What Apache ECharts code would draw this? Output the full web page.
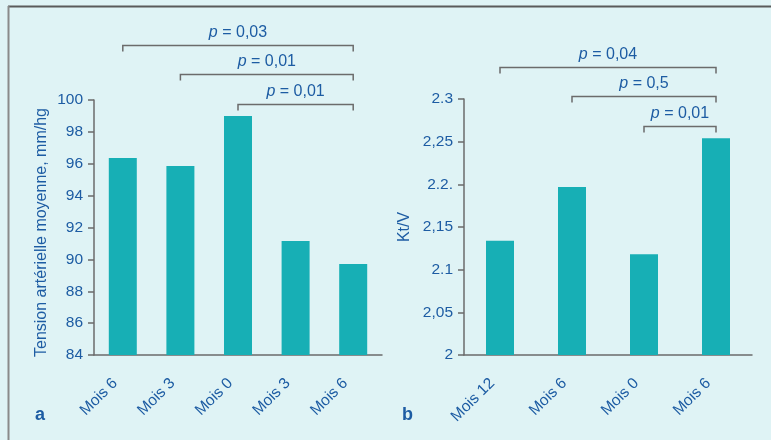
<!DOCTYPE html>
<html>
<head>
<meta charset="utf-8">
<script src="https://cdn.jsdelivr.net/npm/echarts@6/dist/echarts.min.js"></script>
<style>
  html, body { margin: 0; padding: 0; background: #dff3f5; }
  #main { width: 771px; height: 440px; }
</style>
</head>
<body>
<div id="main"></div>
<script>
// panel a : tension artérielle
const catsA = ['Mois 6', 'Mois 3', 'Mois 0', 'Mois 3', 'Mois 6']
const valuesA = [96.36, 95.86, 99.0, 91.15, 89.71]
// panel b : Kt/V
const catsB = ['Mois 12', 'Mois 6', 'Mois 0', 'Mois 6']
const valuesB = [2.134, 2.197, 2.118, 2.254]
const tickLabelsB = ['2', '2,05', '2.1', '2,15', '2.2.', '2,25', '2.3']

// significance brackets: from category -> to category, drawn at a y value
const bracketsA = [
    {from: 0, to: 4, level: 103.48, p: '0,03'},
    {from: 1, to: 4, level: 101.66, p: '0,01'},
    {from: 2, to: 4, level: 99.75, p: '0,01'}
]
const bracketsB = [
    {from: 0, to: 3, level: 2.337, p: '0,04'},
    {from: 1, to: 3, level: 2.3035, p: '0,5'},
    {from: 2, to: 3, level: 2.268, p: '0,01'}
]

const blue = '#1d5ca3'
const teal = '#17afb5'
const grey = '#6b6b6b'
const font = '"Liberation Sans", Arial, sans-serif'

const xAxisBase = {
    type: 'category',
    axisLine: {lineStyle: {color: grey, width: 1.5}},
    axisTick: {length: 6, lineStyle: {color: grey, width: 1.5}},
    axisLabel: {
        rotate: 45, color: blue, fontSize: 15.5, fontFamily: font,
        margin: 18, padding: [0, 11, 0, 0]
    }
}
const yAxisBase = {
    type: 'value',
    splitLine: {show: false},
    axisLine: {show: true, lineStyle: {color: grey, width: 1.5}},
    axisTick: {show: true, length: 6, lineStyle: {color: grey, width: 1.5}},
    axisLabel: {color: blue, fontSize: 15.5, fontFamily: font, margin: 11},
    nameLocation: 'middle',
    nameTextStyle: {color: blue, fontSize: 16, fontFamily: font}
}

let myChart = echarts.init(document.getElementById('main'))

let option = {
    backgroundColor: '#dff3f5',
    animation: false,
    textStyle: {fontFamily: font},
    grid: [
        {left: 94, top: 100, width: 288, height: 255},
        {left: 464, top: 99, width: 288, height: 256}
    ],
    xAxis: [
        Object.assign({}, xAxisBase, {gridIndex: 0, data: catsA}),
        Object.assign({}, xAxisBase, {gridIndex: 1, data: catsB})
    ],
    yAxis: [
        Object.assign({}, yAxisBase, {
            gridIndex: 0, min: 84, max: 100, interval: 2,
            name: 'Tension artérielle moyenne, mm/hg', nameGap: 44,
            nameTextStyle: Object.assign({}, yAxisBase.nameTextStyle, {padding: [0, 10, 0, 0]})
        }),
        Object.assign({}, yAxisBase, {
            gridIndex: 1, min: 2, max: 2.3, interval: 0.05,
            name: 'Kt/V', nameGap: 51,
            axisLabel: Object.assign({}, yAxisBase.axisLabel, {
                formatter: v => tickLabelsB[Math.round((v - 2) / 0.05)]
            })
        })
    ],
    series: [
        {type: 'bar', xAxisIndex: 0, yAxisIndex: 0, data: valuesA, barWidth: 28, itemStyle: {color: teal}},
        {type: 'bar', xAxisIndex: 1, yAxisIndex: 1, data: valuesB, barWidth: 28, itemStyle: {color: teal}}
    ]
}

myChart.setOption(option)

// frame, panel letters and brackets
let graphics = [
    {type: 'line', shape: {x1: 8, y1: 6.5, x2: 771, y2: 6.5}, style: {stroke: '#5a5a5a', lineWidth: 2}},
    {type: 'line', shape: {x1: 8.5, y1: 6, x2: 8.5, y2: 440}, style: {stroke: '#8a8a8a', lineWidth: 2}},
    {type: 'text', x: 35, y: 406, style: {text: 'a', fill: blue, font: 'bold 18px ' + font}},
    {type: 'text', x: 402, y: 406, style: {text: 'b', fill: blue, font: 'bold 18px ' + font}}
]

function addBrackets(list, gridIndex) {
    list.forEach(b => {
        let p1 = myChart.convertToPixel({gridIndex: gridIndex}, [b.from, b.level])
        let p2 = myChart.convertToPixel({gridIndex: gridIndex}, [b.to, b.level])
        let y = Math.round(p1[1]) + 0.5
        graphics.push({
            type: 'polyline',
            shape: {points: [[p1[0], y + 6], [p1[0], y], [p2[0], y], [p2[0], y + 6]]},
            style: {stroke: grey, lineWidth: 1.5, fill: null}
        })
        graphics.push({
            type: 'text',
            x: (p1[0] + p2[0]) / 2,
            y: y - 13,
            style: {
                text: '{i|p} = ' + b.p,
                rich: {i: {fontStyle: 'italic', fontSize: 16, fill: blue, fontFamily: font}},
                fill: blue, fontSize: 16, fontFamily: font,
                align: 'center', verticalAlign: 'middle'
            }
        })
    })
}
addBrackets(bracketsA, 0)
addBrackets(bracketsB, 1)

myChart.setOption({graphic: graphics})
</script>
</body>
</html>
